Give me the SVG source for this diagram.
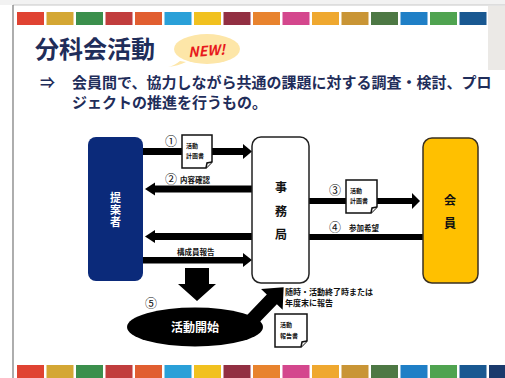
<svg xmlns="http://www.w3.org/2000/svg" width="505" height="378" viewBox="0 0 505 378">
<style>
text{font-family:"Noto Sans CJK JP","Noto Sans",sans-serif;font-weight:bold}
.navy{fill:#1f2d5a}
.lbl{font-size:7.5px;fill:#111}
.doc{fill:#fff;stroke:#111;stroke-width:1.5}
.dt{font-size:6px;fill:#111}
.box{stroke-width:1.5}
.arr{fill:#000}
.num{font-size:12px;font-weight:normal;fill:#111}
.vt{writing-mode:vertical-rl;text-orientation:upright}
</style>
<defs>
<g id="strip">
<rect x="17" width="27" height="13" fill="#e04332"/>
<rect x="46.5" width="27" height="13" fill="#d4a734"/>
<rect x="76" width="27" height="13" fill="#3b8f4c"/>
<rect x="105.5" width="27" height="13" fill="#c13d3d"/>
<rect x="135" width="27" height="13" fill="#e15e30"/>
<rect x="164.5" width="27" height="13" fill="#2aa0d8"/>
<rect x="194" width="27" height="13" fill="#f1c11f"/>
<rect x="223.5" width="27" height="13" fill="#922f42"/>
<rect x="253" width="27" height="13" fill="#e8832e"/>
<rect x="282.5" width="27" height="13" fill="#d4478d"/>
<rect x="312" width="27" height="13" fill="#efa82f"/>
<rect x="341.5" width="27" height="13" fill="#c99535"/>
<rect x="371" width="27" height="13" fill="#4d7844"/>
<rect x="400.5" width="27" height="13" fill="#1f7fc6"/>
<rect x="430" width="27" height="13" fill="#4fa350"/>
<rect x="459.5" width="27" height="13" fill="#195891"/>
<rect x="489" width="27" height="13" fill="#1b3a6c"/>
</g>
</defs>
<rect width="505" height="378" fill="#fff"/>
<rect width="505" height="5" fill="#f2f2f2"/>
<line x1="13" y1="5" x2="505" y2="5" stroke="#c8c8c8" stroke-width="1"/>
<line x1="13" y1="5" x2="13" y2="378" stroke="#777" stroke-width="1.2"/>
<use href="#strip" y="12"/>
<rect x="488" y="6" width="17" height="64" fill="#ebe9e6"/>
<use href="#strip" y="365"/>

<g id="title">
<text x="35" y="58" font-size="24" class="navy">分科会活動</text>
<path d="M180,61 Q174,66 168,67 Q178,66 186,62 Z" fill="#fde6a8"/>
<ellipse cx="207" cy="49" rx="33" ry="15" fill="#fde6a8"/>
<text x="188" y="56" font-size="14" fill="#e8191c" font-style="italic" transform="rotate(-4 205 50)">NEW!</text>
<text x="40" y="88" font-size="15" class="navy">⇒</text>
<text x="72" y="88" font-size="15" class="navy">会員間で、協力しながら共通の課題に対する調査・検討、プロ</text>
<text x="72" y="108" font-size="15" class="navy">ジェクトの推進を行うもの。</text>
</g>

<g id="connectors">
<rect class="arr" x="143" y="148" width="101" height="7"/>
<polygon class="arr" points="243,144 252,151.5 243,159"/>
<rect class="arr" x="154" y="185.5" width="98" height="7"/>
<polygon class="arr" points="155,182.5 145,189 155,195.5"/>
<rect class="arr" x="154" y="233" width="98" height="7"/>
<polygon class="arr" points="155,230 145,236.5 155,243"/>
<rect class="arr" x="143" y="257" width="101" height="6.5"/>
<polygon class="arr" points="243,253 252,260 243,267"/>
<rect class="arr" x="309" y="198" width="104" height="6"/>
<polygon class="arr" points="412,193 420,201 412,209"/>
<rect class="arr" x="309" y="234" width="114" height="6"/>
<polygon class="arr" points="185,268 209,268 209,284 216,284 197,301 178,284 185,284"/>
<polygon class="arr" points="0,-7 30,-7 30,-15 47,0 30,15 30,7 0,7" transform="translate(251,321) rotate(-46)"/>
</g>

<g id="labels">
<text class="num" x="165" y="146">①</text>
<text class="num" x="165" y="184">②</text>
<text class="lbl" x="180" y="183">内容確認</text>
<text class="lbl" x="177" y="255">構成員報告</text>
<text class="num" x="329" y="195">③</text>
<text class="num" x="329" y="232">④</text>
<text class="lbl" x="349" y="231">参加希望</text>
<text class="num" x="145" y="308" font-size="13">⑤</text>
<text x="285" y="295" font-size="8" fill="#111">随時・活動終了時または</text>
<text x="285" y="305.5" font-size="8" fill="#111">年度末に報告</text>
</g>

<g id="doc1">
<path class="doc" d="M182,135 H212 V162 L206,168 H182 Z"/>
<path class="doc" d="M206,168 L207,163 L212,162"/>
<text class="dt" x="186" y="148">活動</text>
<text class="dt" x="186" y="158">計画書</text>
</g>
<g id="doc2">
<path class="doc" d="M346,180 H377 V207 L371,213 H346 Z"/>
<path class="doc" d="M371,213 L372,208 L377,207"/>
<text class="dt" x="350" y="193">活動</text>
<text class="dt" x="350" y="203">計画書</text>
</g>
<g id="doc3">
<path class="doc" d="M275,314 H307 V341 L301,347 H275 Z"/>
<path class="doc" d="M301,347 L302,342 L307,341"/>
<text class="dt" x="280" y="327">活動</text>
<text class="dt" x="280" y="338">報告書</text>
</g>

<g id="teiansha">
<rect x="88" y="137" width="55" height="144" rx="8" fill="#0b2a7a"/>
<text class="vt" x="115.5" y="210" font-size="11" letter-spacing="1" fill="#fff" text-anchor="middle">提案者</text>
</g>
<g id="jimukyoku">
<rect class="box" x="252" y="137" width="57" height="146" rx="9" fill="#fff" stroke="#222"/>
<text x="281" y="192" font-size="12" fill="#111" text-anchor="middle">事</text>
<text x="281" y="216" font-size="12" fill="#111" text-anchor="middle">務</text>
<text x="281" y="239" font-size="12" fill="#111" text-anchor="middle">局</text>
</g>
<g id="kaiin">
<rect class="box" x="423" y="138" width="55" height="145" rx="9" fill="#ffc000" stroke="#3a3020"/>
<text x="450" y="205" font-size="12" fill="#111" text-anchor="middle">会</text>
<text x="450" y="228" font-size="12" fill="#111" text-anchor="middle">員</text>
</g>
<g id="katsudou">
<ellipse cx="195" cy="327" rx="68" ry="19.5" fill="#000"/>
<text x="195" y="331.5" font-size="12" fill="#fff" text-anchor="middle">活動開始</text>
</g>
</svg>
